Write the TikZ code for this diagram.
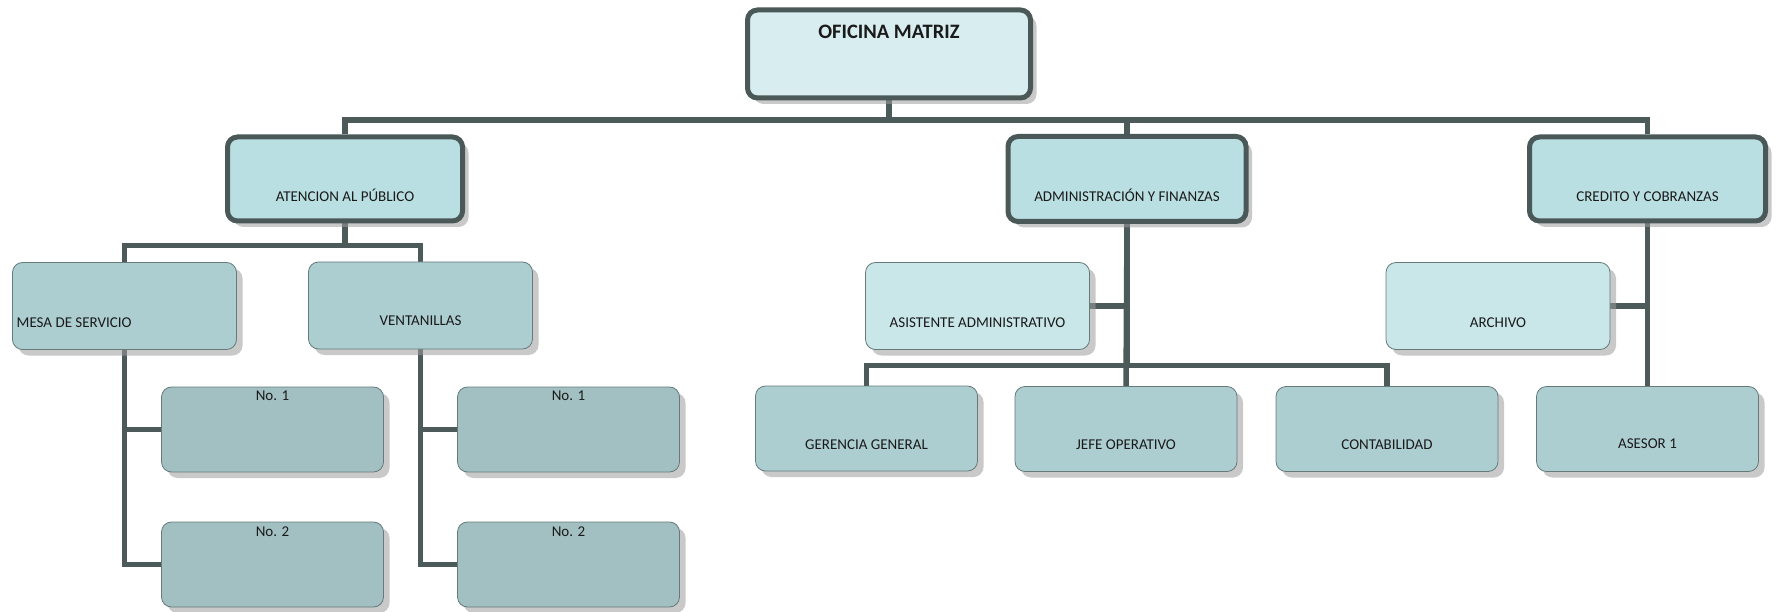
\documentclass[tikz,border=0pt]{standalone}
\usepackage{fontspec}
\setmainfont{Carlito}
\usetikzlibrary{shadows}

\definecolor{rootfill}{HTML}{D8EDEF}
\definecolor{headfill}{HTML}{BADFE2}
\definecolor{unitfill}{HTML}{ADCED1}
\definecolor{deskfill}{HTML}{A2C0C2}
\definecolor{stafffill}{HTML}{C9E6E8}
\definecolor{borderdark}{HTML}{4A5858}
\definecolor{borderthin}{HTML}{667A7A}
\definecolor{conncolor}{HTML}{4C5A5A}
\definecolor{shadowgray}{HTML}{9D9D9D}
\definecolor{textdark}{HTML}{1A1A1A}

\pgfdeclarelayer{lines}
\pgfsetlayers{lines,main}

\begin{document}
\begin{tikzpicture}[x=1pt,y=-1pt,
  box/.style={rectangle, rounded corners=10pt, inner sep=0pt,
    drop shadow={shadow xshift=6pt, shadow yshift=-6pt, fill=shadowgray, opacity=0.55}},
  headbox/.style={box, draw=borderdark, line width=5pt},
  unitbox/.style={box, draw=borderthin, line width=0.8pt},
  wide/.style={minimum width=224pt, minimum height=87pt},
  low/.style={minimum width=222pt, minimum height=85pt},
  lbl/.style={font=\fontsize{15}{18}\selectfont, text=textdark, anchor=base, inner sep=0pt},
  conn/.style={draw=conncolor, line width=5.5pt}]
\useasboundingbox (0,0) rectangle (1780,612);

% head office and departments
\node[headbox, fill=rootfill, minimum width=283pt, minimum height=88pt] (matriz) at (889,54) {};
\node[headbox, fill=headfill, minimum width=235pt, minimum height=84pt] (aten) at (345,179) {};
\node[headbox, fill=headfill, minimum width=238pt, minimum height=85pt] (admin) at (1127,179) {};
\node[headbox, fill=headfill, minimum width=236pt, minimum height=84pt] (cred) at (1647.5,179) {};

% second level
\node[unitbox, fill=unitfill, wide] (mesa) at (124.5,306) {};
\node[unitbox, fill=unitfill, wide] (vent) at (420.5,305.5) {};
\node[unitbox, fill=stafffill, wide] (asist) at (977.5,306) {};
\node[unitbox, fill=stafffill, wide] (arch) at (1498,306) {};

% desks under each service point
\node[unitbox, fill=deskfill, low] (m1) at (272.5,429.5) {};
\node[unitbox, fill=deskfill, low] (m2) at (272.5,564.5) {};
\node[unitbox, fill=deskfill, low] (v1) at (568.5,429.5) {};
\node[unitbox, fill=deskfill, low] (v2) at (568.5,564.5) {};

% administration and credit staff
\node[unitbox, fill=unitfill, low] (ger) at (866.5,428.5) {};
\node[unitbox, fill=unitfill, low] (jefe) at (1126,429) {};
\node[unitbox, fill=unitfill, low] (cont) at (1387,429) {};
\node[unitbox, fill=unitfill, low] (ases) at (1647.5,429) {};

% connectors, kept underneath the boxes and their shadows
\begin{pgfonlayer}{lines}
\draw[conn] (matriz.south) -- ++(0,19.5) -| (aten.north);
\draw[conn] (matriz.south) -- ++(0,19.5) -| (admin.north);
\draw[conn] (matriz.south) -- ++(0,19.5) -| (cred.north);

\draw[conn] (aten.south) -- ++(0,22) -| (mesa.north);
\draw[conn] (aten.south) -- ++(0,22) -| (vent.north);
\draw[conn] (mesa.south) |- (m1.west);
\draw[conn] (mesa.south) |- (m2.west);
\draw[conn] (vent.south) |- (v1.west);
\draw[conn] (vent.south) |- (v2.west);

\draw[conn] (admin.south) -- (jefe.north);
\draw[conn] (asist.east) -| (admin.south);
\draw[conn] (admin.south) -- ++(0,141.5) -| (ger.north);
\draw[conn] (admin.south) -- ++(0,141.5) -| (cont.north);

\draw[conn] (cred.south) -- (ases.north);
\draw[conn] (arch.east) -| (cred.south);
\end{pgfonlayer}

% labels
\node[lbl, font=\fontsize{20.5}{23}\selectfont\bfseries] (t-matriz) at (889,38.5) {OFICINA MATRIZ};
\node[lbl] (t-aten) at (345,202) {ATENCION AL PÚBLICO};
\node[lbl] (t-admin) at (1127,202) {ADMINISTRACIÓN Y FINANZAS};
\node[lbl] (t-cred) at (1647.5,202) {CREDITO Y COBRANZAS};
\node[lbl, anchor=base west] (t-mesa) at (16.5,327) {MESA DE SERVICIO};
\node[lbl] (t-vent) at (420.5,326) {VENTANILLAS};
\node[lbl] (t-asist) at (977.5,327) {ASISTENTE ADMINISTRATIVO};
\node[lbl] (t-arch) at (1498,327) {ARCHIVO};
\node[lbl] (t-m1) at (272.5,400) {No. 1};
\node[lbl] (t-m2) at (272.5,536) {No. 2};
\node[lbl] (t-v1) at (568.5,400) {No. 1};
\node[lbl] (t-v2) at (568.5,536) {No. 2};
\node[lbl] (t-ger) at (866.5,449.5) {GERENCIA GENERAL};
\node[lbl] (t-jefe) at (1126,449.5) {JEFE OPERATIVO};
\node[lbl] (t-cont) at (1387,449) {CONTABILIDAD};
\node[lbl] (t-ases) at (1647.5,448) {ASESOR 1};
\end{tikzpicture}
\end{document}
